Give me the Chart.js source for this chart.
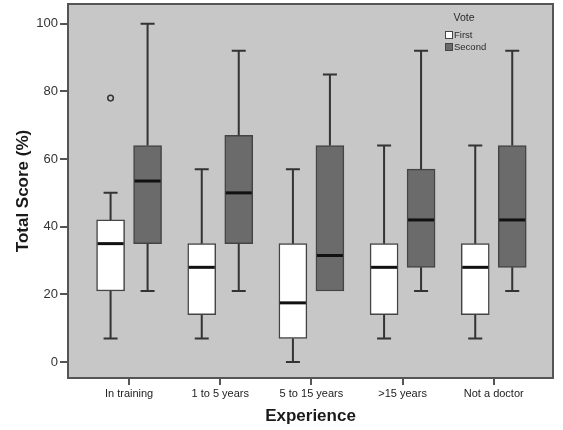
<!DOCTYPE html>
<html>
<head>
<meta charset="utf-8">
<script src="https://cdn.jsdelivr.net/npm/chart.js@4.4.1/dist/chart.umd.min.js"></script>
<style>
  html, body { margin: 0; padding: 0; background: #fff; }
  #wrap { width: 563px; height: 430px; }
</style>
</head>
<body>
<div id="wrap"><canvas id="boxChart" width="563" height="430"></canvas></div>
<script>
// categorias e estatísticas
const categories = ["In training", "1 to 5 years", "5 to 15 years", ">15 years", "Not a doctor"];
const yTicks = [0, 20, 40, 60, 80, 100];

// voto 1
const firstMin    = [7, 7, 0, 7, 7];
const firstQ1     = [21, 14, 7, 14, 14];
const firstMedian = [35, 28, 17.5, 28, 28];
const firstQ3     = [42, 35, 35, 35, 35];
const firstMax    = [50, 57, 57, 64, 64];
const firstOutliers = [[78], [], [], [], []];

// voto 2
const secondMin    = [21, 21, 21, 21, 21];
const secondQ1     = [35, 35, 21, 28, 28];
const secondMedian = [53.5, 50, 31.5, 42, 42];
const secondQ3     = [64, 67, 64, 57, 64];
const secondMax    = [100, 92, 85, 92, 92];
const secondOutliers = [[], [], [], [], []];

const series = [
  { label: "First", fill: "#ffffff", min: firstMin, q1: firstQ1, med: firstMedian, q3: firstQ3, max: firstMax, out: firstOutliers },
  { label: "Second", fill: "#6b6b6b", min: secondMin, q1: secondQ1, med: secondMedian, q3: secondQ3, max: secondMax, out: secondOutliers }
];

Chart.defaults.font.family = "'Liberation Sans', Arial, sans-serif";
Chart.defaults.color = "#2a2a2a";

// fundo cinza da área do gráfico
const plotBg = {
  id: "plotBg",
  beforeDraw(chart) {
    const { ctx, chartArea: a } = chart;
    ctx.save();
    ctx.fillStyle = "#c7c7c7";
    ctx.fillRect(a.left, a.top, a.right - a.left, a.bottom - a.top);
    ctx.restore();
  }
};

// bigodes, medianas, outliers, moldura e legenda
const boxExtras = {
  id: "boxExtras",
  afterDatasetsDraw(chart) {
    const { ctx, scales: { y } } = chart;
    ctx.save();
    series.forEach((s, di) => {
      const meta = chart.getDatasetMeta(di);
      meta.data.forEach((bar, i) => {
        const x = bar.x;
        const w = bar.width;
        const yq1 = y.getPixelForValue(s.q1[i]);
        const yq3 = y.getPixelForValue(s.q3[i]);
        const ymin = y.getPixelForValue(s.min[i]);
        const ymax = y.getPixelForValue(s.max[i]);
        const ymed = y.getPixelForValue(s.med[i]);

        ctx.strokeStyle = "#333";
        ctx.lineWidth = 2;
        ctx.beginPath();
        if (s.max[i] > s.q3[i]) {
          ctx.moveTo(x, yq3); ctx.lineTo(x, ymax);
          ctx.moveTo(x - w / 4, ymax); ctx.lineTo(x + w / 4, ymax);
        }
        if (s.min[i] < s.q1[i]) {
          ctx.moveTo(x, yq1); ctx.lineTo(x, ymin);
          ctx.moveTo(x - w / 4, ymin); ctx.lineTo(x + w / 4, ymin);
        }
        ctx.stroke();

        ctx.strokeStyle = "#111";
        ctx.lineWidth = 3;
        ctx.beginPath();
        ctx.moveTo(x - w / 2 + 1, ymed); ctx.lineTo(x + w / 2 - 1, ymed);
        ctx.stroke();

        ctx.strokeStyle = "#333";
        ctx.lineWidth = 1.5;
        s.out[i].forEach(v => {
          ctx.beginPath();
          ctx.arc(x, y.getPixelForValue(v), 2.8, 0, Math.PI * 2);
          ctx.stroke();
        });
      });
    });
    ctx.restore();
  },
  afterDraw(chart) {
    const { ctx, chartArea: a } = chart;
    ctx.save();
    ctx.strokeStyle = "#555";
    ctx.lineWidth = 2;
    ctx.strokeRect(a.left, a.top, a.right - a.left, a.bottom - a.top);

    // legenda
    ctx.fillStyle = "#2a2a2a";
    ctx.font = "10.5px 'Liberation Sans', Arial, sans-serif";
    ctx.textAlign = "center";
    ctx.textBaseline = "middle";
    ctx.fillText("Vote", 464, 18);
    ctx.font = "9.5px 'Liberation Sans', Arial, sans-serif";
    ctx.textAlign = "left";
    series.forEach((s, i) => {
      const top = 31 + i * 12;
      ctx.fillStyle = s.fill;
      ctx.fillRect(445, top, 8, 8);
      ctx.strokeStyle = "#444";
      ctx.lineWidth = 1;
      ctx.strokeRect(445.5, top + 0.5, 7, 7);
      ctx.fillStyle = "#2a2a2a";
      ctx.fillText(s.label, 454, top + 4.5);
    });
    ctx.restore();
  }
};

const ctx = document.getElementById("boxChart").getContext("2d");

new Chart(ctx, {
  type: "bar",
  data: {
    datasets: series.map(s => ({
      label: s.label,
      data: categories.map((c, i) => ({ x: i + 1, y: [s.q1[i], s.q3[i]] })),
      backgroundColor: s.fill,
      borderColor: "#444",
      borderWidth: 1.5,
      borderSkipped: false,
      barThickness: 37,
      maxBarThickness: 28
    }))
  },
  options: {
    responsive: false,
    animation: false,
    layout: { padding: { top: 4, right: 10, left: 0, bottom: 0 } },
    plugins: {
      legend: { display: false },
      tooltip: { enabled: false }
    },
    scales: {
      x: {
        type: "linear",
        offset: false,
        min: 0.33,
        max: 5.65,
        afterBuildTicks: axis => { axis.ticks = categories.map((c, i) => ({ value: i + 1 })); },
        afterFit: axis => { axis.height = 52; axis.paddingLeft = 0; axis.paddingRight = 0; },
        ticks: {
          callback: v => categories[Math.round(v) - 1] || "",
          font: { size: 11 },
          color: "#222",
          padding: 2,
          maxRotation: 0,
          autoSkip: false
        },
        grid: { offset: false, drawOnChartArea: false, tickLength: 7, color: "#555", lineWidth: 2 },
        border: { display: false },
        title: {
          display: true,
          text: "Experience",
          font: { size: 17, weight: "bold" },
          color: "#1a1a1a",
          padding: { top: 0, bottom: 3 }
        }
      },
      y: {
        min: -4.7,
        max: 105.8,
        afterBuildTicks: axis => { axis.ticks = yTicks.map(v => ({ value: v })); },
        afterFit: axis => { axis.width = 68; axis.paddingTop = 0; axis.paddingBottom = 0; },
        ticks: {
          font: { size: 13 },
          color: "#333",
          padding: 2
        },
        grid: { drawOnChartArea: false, tickLength: 8, color: "#555", lineWidth: 2 },
        border: { display: false },
        title: {
          display: true,
          text: "Total Score (%)",
          font: { size: 17, weight: "bold" },
          color: "#1a1a1a",
          padding: { top: 13, bottom: 0 }
        }
      }
    }
  },
  plugins: [plotBg, boxExtras]
});
</script>
</body>
</html>
